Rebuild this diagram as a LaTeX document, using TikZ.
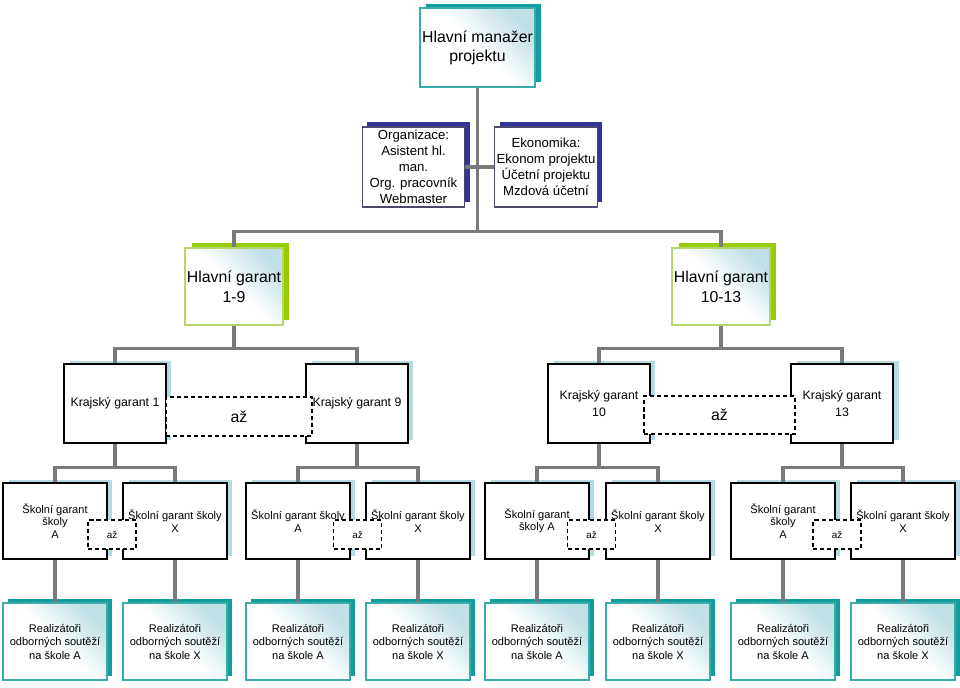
\documentclass[tikz,border=0pt]{standalone}
\usepackage{fontspec}
\setmainfont{Liberation Sans}
\usetikzlibrary{shadows}
\definecolor{tealdark}{HTML}{139C9C}
\definecolor{tealline}{HTML}{3AABAB}
\definecolor{paleblue}{HTML}{BFE0E6}
\definecolor{navyshadow}{HTML}{333399}
\definecolor{navyline}{HTML}{4A4A70}
\definecolor{limeshadow}{HTML}{99CC00}
\definecolor{limeline}{HTML}{B5D66A}
\definecolor{skyshadow}{HTML}{B2DAE2}
\definecolor{connector}{HTML}{7A7A7A}
\tikzset{
  card/.style={align=center, inner sep=0pt, line width=0.7pt},
  tint/.style={bottom color=white, top color=paleblue, middle color=white, shading angle=-45},
  manbox/.style={card, draw=tealline, tint, minimum width=2.3cm, minimum height=1.58cm,
    general shadow={fill=tealdark, shadow xshift=0.12cm, shadow yshift=0.09cm},
    font=\fontsize{9}{11}\selectfont},
  staffbox/.style={card, draw=navyline, fill=white, minimum width=2.05cm, minimum height=1.6cm,
    general shadow={fill=navyshadow, shadow xshift=0.1cm, shadow yshift=0.1cm},
    font=\fontsize{7.5}{9.1}\selectfont},
  chiefbox/.style={card, draw=limeline, tint, minimum width=1.96cm, minimum height=1.54cm,
    general shadow={fill=limeshadow, shadow xshift=0.13cm, shadow yshift=0.1cm},
    font=\fontsize{9}{11.5}\selectfont},
  regionbox/.style={card, draw=black, fill=white, minimum width=2.04cm, minimum height=1.58cm,
    general shadow={fill=skyshadow, shadow xshift=0.11cm, shadow yshift=0.07cm},
    font=\fontsize{7}{9.7}\selectfont},
  schoolbox/.style={regionbox, minimum width=2.08cm, minimum height=1.52cm,
    font=\fontsize{6.3}{7.1}\selectfont},
  teambox/.style={card, draw=tealline, tint, minimum width=2.08cm, minimum height=1.54cm,
    general shadow={fill=tealdark, shadow xshift=0.1cm, shadow yshift=0.09cm},
    font=\fontsize{6.3}{7.7}\selectfont},
  rangebox/.style={draw=black, fill=white, line width=0.6pt, dash pattern=on 2.3pt off 1.7pt,
    inner sep=0pt, font=\fontsize{9}{11}\selectfont},
  smallrange/.style={rangebox, minimum width=0.96cm, minimum height=0.58cm,
    font=\fontsize{5.6}{6}\selectfont},
  conn/.style={draw=connector, line width=1.9pt}
}
\begin{document}
\begin{tikzpicture}[x=0.02cm,y=-0.02cm]
    \useasboundingbox (0,0) rectangle (960,687);
    \node[manbox] (man) at (477.5,47.5) {Hlavní manažer\\projektu};
    \node[staffbox] (org) at (413.5,167) {Organizace:\\Asistent hl.\\man.\\Org. pracovník\\Webmaster};
    \node[staffbox] (eko) at (546,167) {Ekonomika:\\Ekonom projektu\\Účetní projektu\\Mzdová účetní};
    \node[chiefbox] (hg1) at (234,286.5) {Hlavní garant\\1-9};
    \node[chiefbox] (hg2) at (721,286.5) {Hlavní garant\\10-13};
    \node[regionbox] (kg1) at (115,403.5) {Krajský garant 1};
    \node[regionbox] (kg9) at (357,403.5) {Krajský garant 9};
    \node[regionbox] (kg10) at (599,403.5) {Krajský garant\\10};
    \node[regionbox] (kg13) at (842,403.5) {Krajský garant\\13};
    \node[schoolbox] (sg1) at (55,521) {Školní garant\\školy\\A};
    \node[schoolbox] (sg2) at (175,521) {Školní garant školy\\X};
    \node[schoolbox] (sg3) at (298,521) {Školní garant školy\\A};
    \node[schoolbox] (sg4) at (418,521) {Školní garant školy\\X};
    \node[schoolbox] (sg5) at (537,521) {Školní garant\\školy A};
    \node[schoolbox] (sg6) at (658,521) {Školní garant školy\\X};
    \node[schoolbox] (sg7) at (783,521) {Školní garant\\školy\\A};
    \node[schoolbox] (sg8) at (903,521) {Školní garant školy\\X};
    \node[teambox] (rz1) at (55,641.5) {Realizátoři\\odborných soutěží\\na škole A};
    \node[teambox] (rz2) at (175,641.5) {Realizátoři\\odborných soutěží\\na škole X};
    \node[teambox] (rz3) at (298,641.5) {Realizátoři\\odborných soutěží\\na škole A};
    \node[teambox] (rz4) at (418,641.5) {Realizátoři\\odborných soutěží\\na škole X};
    \node[teambox] (rz5) at (537,641.5) {Realizátoři\\odborných soutěží\\na škole A};
    \node[teambox] (rz6) at (658,641.5) {Realizátoři\\odborných soutěží\\na škole X};
    \node[teambox] (rz7) at (783,641.5) {Realizátoři\\odborných soutěží\\na škole A};
    \node[teambox] (rz8) at (903,641.5) {Realizátoři\\odborných soutěží\\na škole X};
    \draw[conn] (man.south) -- ++(0,145);
    \draw[conn] (org.east) -- (eko.west);
    \draw[conn] (hg1.north) -- ++(0,-16) -| (hg2.north);
    \draw[conn] (hg1.south) -- ++(0,24);
    \draw[conn] (hg2.south) -- ++(0,24);
    \draw[conn] (kg1.north) -- ++(0,-15) -| (kg9.north);
    \draw[conn] (kg10.north) -- ++(0,-15) -| (kg13.north);
    \draw[conn] (kg1.south) -- ++(0,25);
    \draw[conn] (kg9.south) -- ++(0,25);
    \draw[conn] (kg10.south) -- ++(0,25);
    \draw[conn] (kg13.south) -- ++(0,25);
    \draw[conn] (sg1.north) -- ++(0,-15) -| (sg2.north);
    \draw[conn] (sg3.north) -- ++(0,-15) -| (sg4.north);
    \draw[conn] (sg5.north) -- ++(0,-15) -| (sg6.north);
    \draw[conn] (sg7.north) -- ++(0,-15) -| (sg8.north);
    \draw[conn] (sg1.south) -- (rz1.north);
    \draw[conn] (sg2.south) -- (rz2.north);
    \draw[conn] (sg3.south) -- (rz3.north);
    \draw[conn] (sg4.south) -- (rz4.north);
    \draw[conn] (sg5.south) -- (rz5.north);
    \draw[conn] (sg6.south) -- (rz6.north);
    \draw[conn] (sg7.south) -- (rz7.north);
    \draw[conn] (sg8.south) -- (rz8.north);
    \node[rangebox, minimum width=2.92cm, minimum height=0.78cm] (az1) at (239,416.5) {až};
    \node[rangebox, minimum width=3.02cm, minimum height=0.76cm] (az2) at (719.5,415) {až};
    \node[smallrange] (az3) at (112,534.5) {až};
    \node[smallrange] (az4) at (357.5,534.5) {až};
    \node[smallrange] (az5) at (591.5,534.5) {až};
    \node[smallrange] (az6) at (837,534.5) {až};
\end{tikzpicture}
\end{document}
